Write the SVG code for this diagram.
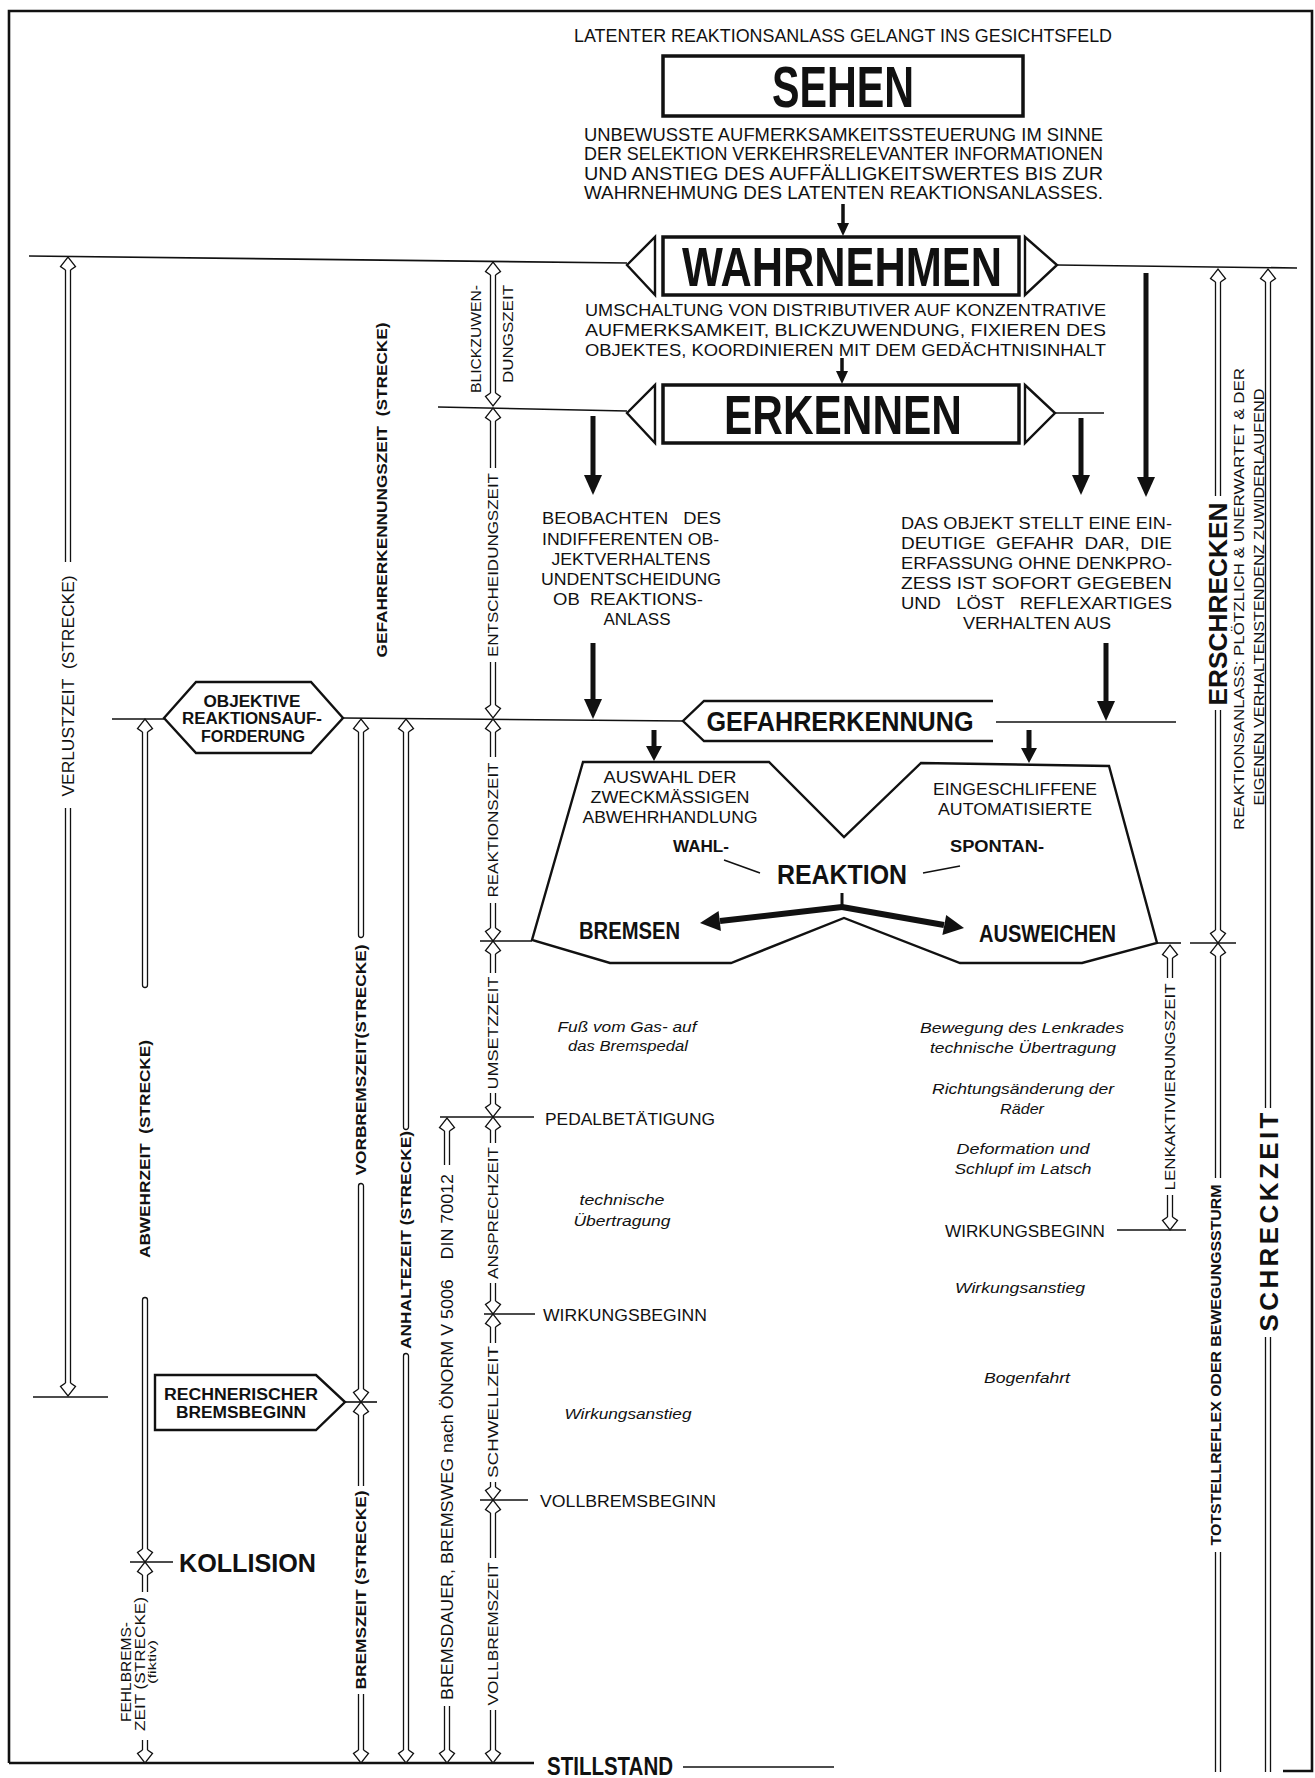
<svg xmlns="http://www.w3.org/2000/svg" width="1315" height="1778" viewBox="0 0 1315 1778">
<style>
.t{font-family:"Liberation Sans",Arial,sans-serif;fill:#111}
.b{font-weight:bold}
.i{font-style:italic}
.m{text-anchor:middle}
.e{text-anchor:end}
.ln{stroke:#111;stroke-width:1.6;fill:none}
.fr{stroke:#111;stroke-width:2.6;fill:none}
.dl{stroke:#111;stroke-width:1.3;fill:none}
.bx{stroke:#111;stroke-width:3.5;fill:#fff}
.sh{stroke:#111;stroke-width:2.4;fill:none;stroke-linejoin:miter}
.w{fill:#fff}
.sa{stroke:#111;stroke-width:5;fill:none}
.sm{stroke:#111;stroke-width:3.5;fill:none}
</style>
<defs>
<path id="au" d="M-2.5,13 L-7.5,9.5 L0,0 L7.5,9.5 L2.5,13" fill="#fff" stroke="#111" stroke-width="1.3"/>
<path id="ad" d="M-2.5,-13 L-7.5,-9.5 L0,0 L7.5,-9.5 L2.5,-13" fill="#fff" stroke="#111" stroke-width="1.3"/>
<polygon id="bh" points="0,0 -9,-20 9,-20" fill="#111"/>
<polygon id="bm" points="0,0 -8,-15 8,-15" fill="#111"/>
<polygon id="bs" points="0,0 -6,-13 6,-13" fill="#111"/>
</defs>
<rect width="1315" height="1778" fill="#fff"/>

<g id="frame">
<path class="fr" d="M9,1763 V11 H1312 V1771 H1283"/>
</g>

<g id="connectors">
<path class="ln" d="M29,256 L627,263"/>
<path class="ln" d="M1057,265 L1297,268"/>
<path class="ln" d="M438,407 L627,411"/>
<path class="ln" d="M1055,413 H1104"/>
<path class="ln" d="M112,719 H164 M343,718 L683,721"/>
<path class="ln" d="M996,722 H1176"/>
<path class="ln" d="M480,941 H532"/>
<path class="ln" d="M33,1397 H108"/>
<path class="ln" d="M440,1117 H534"/>
<path class="ln" d="M484,1314 H535"/>
<path class="ln" d="M480,1500 H528"/>
<path class="ln" d="M130,1562 H173"/>
<path class="ln" d="M345,1402 H377"/>
<path class="ln" d="M1157,943 H1181"/>
<path class="ln" d="M1190,943 H1236"/>
<path class="ln" d="M1117,1230 H1186"/>
<path class="fr" d="M9,1763 H534"/>
<path class="ln" d="M683,1767 H834"/>

<path class="sm" d="M843,204 V224"/><use href="#bs" x="843" y="236"/>
<path class="sm" d="M842,358 V372"/><use href="#bs" x="842" y="384"/>
<path class="sa" d="M593,416 V477"/><use href="#bh" x="593" y="495"/>
<path class="sa" d="M1081,418 V477"/><use href="#bh" x="1081" y="495"/>
<path class="sa" d="M1146,273 V479"/><use href="#bh" x="1146" y="497"/>
<path class="sa" d="M593,643 V701"/><use href="#bh" x="593" y="719"/>
<path class="sa" d="M1106,643 V703"/><use href="#bh" x="1106" y="721"/>
<path class="sa" d="M654,730 V748" stroke-width="4"/><use href="#bm" x="654" y="761"/>
<path class="sa" d="M1029,730 V750" stroke-width="4"/><use href="#bm" x="1029" y="763"/>

<path class="dl" d="M65.5,270 V562 M70.5,270 V562 M65.5,808 V1383 M70.5,808 V1383"/>
<use href="#au" x="68" y="257"/>
<use href="#ad" x="68" y="1396"/>

<path class="dl" d="M142.5,732 V985 A2.5,2.5 0 0 0 147.5,985 V732"/>
<path class="dl" d="M142.5,1549 V1300 A2.5,2.5 0 0 1 147.5,1300 V1549"/>
<path class="dl" d="M142.5,1575 V1592 M147.5,1575 V1592 M142.5,1740 V1750 M147.5,1740 V1750"/>
<use href="#au" x="145" y="719"/>
<use href="#ad" x="145" y="1562"/>
<use href="#au" x="145" y="1562"/>
<use href="#ad" x="145" y="1763"/>

<path class="dl" d="M358.5,732 V935 A2.5,2.5 0 0 0 363.5,935 V732"/>
<path class="dl" d="M358.5,1389 V1186 A2.5,2.5 0 0 1 363.5,1186 V1389"/>
<path class="dl" d="M358.5,1415 V1486 M363.5,1415 V1486 M358.5,1694 V1750 M363.5,1694 V1750"/>
<use href="#au" x="361" y="719"/>
<use href="#ad" x="361" y="1402"/>
<use href="#au" x="361" y="1402"/>
<use href="#ad" x="361" y="1763"/>

<path class="dl" d="M403.5,732 V1127 A2.5,2.5 0 0 0 408.5,1127 V732"/>
<path class="dl" d="M403.5,1750 V1356 A2.5,2.5 0 0 1 408.5,1356 V1750"/>
<use href="#au" x="406" y="719"/>
<use href="#ad" x="406" y="1763"/>

<path class="dl" d="M444.5,1131 V1165 M449.5,1131 V1165 M444.5,1706 V1750 M449.5,1706 V1750"/>
<use href="#au" x="447" y="1118"/>
<use href="#ad" x="447" y="1763"/>

<path class="dl" d="M490.5,275 V393 M495.5,275 V393"/>
<path class="dl" d="M490.5,421 V468 M495.5,421 V468 M490.5,662 V705 M495.5,662 V705"/>
<path class="dl" d="M490.5,732 V757 M495.5,732 V757 M490.5,903 V928 M495.5,903 V928"/>
<path class="dl" d="M490.5,954 V973 M495.5,954 V973 M490.5,1093 V1104 M495.5,1093 V1104"/>
<path class="dl" d="M490.5,1130 V1143 M495.5,1130 V1143 M490.5,1283 V1301 M495.5,1283 V1301"/>
<path class="dl" d="M490.5,1327 V1343 M495.5,1327 V1343 M490.5,1482 V1487 M495.5,1482 V1487"/>
<path class="dl" d="M490.5,1513 V1558 M495.5,1513 V1558 M490.5,1710 V1750 M495.5,1710 V1750"/>
<use href="#au" x="493" y="262"/>
<use href="#ad" x="493" y="406"/>
<use href="#au" x="493" y="408"/>
<use href="#ad" x="493" y="718"/>
<use href="#au" x="493" y="719"/>
<use href="#ad" x="493" y="941"/>
<use href="#au" x="493" y="941"/>
<use href="#ad" x="493" y="1117"/>
<use href="#au" x="493" y="1117"/>
<use href="#ad" x="493" y="1314"/>
<use href="#au" x="493" y="1314"/>
<use href="#ad" x="493" y="1500"/>
<use href="#au" x="493" y="1500"/>
<use href="#ad" x="493" y="1763"/>

<path class="dl" d="M1167.5,958 V978 M1172.5,958 V978 M1167.5,1195 V1217 M1172.5,1195 V1217"/>
<use href="#au" x="1170" y="945"/>
<use href="#ad" x="1170" y="1230"/>

<path class="dl" d="M1215.5,282 V496 M1220.5,282 V496 M1215.5,710 V930 M1220.5,710 V930"/>
<path class="dl" d="M1215.5,956 V1178 M1220.5,956 V1178 M1215.5,1552 V1772 M1220.5,1552 V1772"/>
<use href="#au" x="1218" y="269"/>
<use href="#ad" x="1218" y="943"/>
<use href="#au" x="1218" y="943"/>

<path class="dl" d="M1265.5,282 V1108 M1270.5,282 V1108 M1265.5,1337 V1772 M1270.5,1337 V1772"/>
<use href="#au" x="1268" y="269"/>

<path d="M842,893 V908" stroke="#111" stroke-width="3"/>
<path d="M842,907 L720,921" stroke="#111" stroke-width="6"/>
<polygon points="700,923 720.9,931 718.6,911" fill="#111"/>
<path d="M842,907 L944,925" stroke="#111" stroke-width="6"/>
<polygon points="964,928 942.4,935 946.2,915" fill="#111"/>
<path class="ln" d="M724,860 L760,873"/>
<path class="ln" d="M923,873 L960,866"/>
</g>

<g id="top-text">
<text class="t m" x="843" y="42" font-size="18" textLength="538" lengthAdjust="spacingAndGlyphs">LATENTER REAKTIONSANLASS GELANGT INS GESICHTSFELD</text>
</g>

<g id="sehen">
<rect class="bx" x="663" y="56" width="360" height="60"/>
<text class="t b m" x="843" y="107" font-size="58" textLength="142" lengthAdjust="spacingAndGlyphs">SEHEN</text>
</g>

<g id="text-sehen">
<text class="t" font-size="18" lengthAdjust="spacingAndGlyphs" textLength="519" x="584" y="141">UNBEWUSSTE AUFMERKSAMKEITSSTEUERUNG IM SINNE</text>
<text class="t" font-size="18" lengthAdjust="spacingAndGlyphs" textLength="519" x="584" y="160">DER SELEKTION VERKEHRSRELEVANTER INFORMATIONEN</text>
<text class="t" font-size="18" lengthAdjust="spacingAndGlyphs" textLength="519" x="584" y="180">UND ANSTIEG DES AUFFÄLLIGKEITSWERTES BIS ZUR</text>
<text class="t" font-size="18" lengthAdjust="spacingAndGlyphs" textLength="519" x="584" y="199">WAHRNEHMUNG DES LATENTEN REAKTIONSANLASSES.</text>
</g>

<g id="wahrnehmen">
<polygon class="sh w" points="627,265 655,237 655,295"/>
<polygon class="sh w" points="1025,237 1057,265 1025,295"/>
<rect class="bx" x="663" y="237" width="356" height="58"/>
<text class="t b m" x="842" y="286" font-size="56" textLength="320" lengthAdjust="spacingAndGlyphs">WAHRNEHMEN</text>
</g>

<g id="text-wahrnehmen">
<text class="t" font-size="17" lengthAdjust="spacingAndGlyphs" textLength="521" x="585" y="316">UMSCHALTUNG VON DISTRIBUTIVER AUF KONZENTRATIVE</text>
<text class="t" font-size="17" lengthAdjust="spacingAndGlyphs" textLength="521" x="585" y="336">AUFMERKSAMKEIT, BLICKZUWENDUNG, FIXIEREN DES</text>
<text class="t" font-size="17" lengthAdjust="spacingAndGlyphs" textLength="521" x="585" y="356">OBJEKTES, KOORDINIEREN MIT DEM GEDÄCHTNISINHALT</text>
</g>

<g id="erkennen">
<polygon class="sh w" points="627,413 655,385 655,443"/>
<polygon class="sh w" points="1025,385 1055,413 1025,443"/>
<rect class="bx" x="663" y="385" width="356" height="58"/>
<text class="t b m" x="843" y="434" font-size="56" textLength="238" lengthAdjust="spacingAndGlyphs">ERKENNEN</text>
</g>

<g id="beobachten">
<text class="t" font-size="16" lengthAdjust="spacingAndGlyphs" textLength="179" x="542" y="524">BEOBACHTEN&#160;&#160;&#160;DES</text>
<text class="t" font-size="16" lengthAdjust="spacingAndGlyphs" textLength="177" x="542" y="545">INDIFFERENTEN OB-</text>
<text class="t m" font-size="16" lengthAdjust="spacingAndGlyphs" textLength="159" x="631" y="565">JEKTVERHALTENS</text>
<text class="t m" font-size="16" lengthAdjust="spacingAndGlyphs" textLength="180" x="631" y="585">UNDENTSCHEIDUNG</text>
<text class="t m" font-size="16" lengthAdjust="spacingAndGlyphs" textLength="150" x="628" y="605">OB&#160;&#160;REAKTIONS-</text>
<text class="t m" font-size="16" lengthAdjust="spacingAndGlyphs" textLength="67" x="637" y="625">ANLASS</text>
</g>

<g id="objekt-gefahr">
<text class="t" font-size="16" lengthAdjust="spacingAndGlyphs" textLength="271" x="901" y="529">DAS OBJEKT STELLT EINE EIN-</text>
<text class="t" font-size="16" lengthAdjust="spacingAndGlyphs" textLength="271" x="901" y="549">DEUTIGE&#160;&#160;GEFAHR&#160;&#160;DAR,&#160;&#160;DIE</text>
<text class="t" font-size="16" lengthAdjust="spacingAndGlyphs" textLength="271" x="901" y="569">ERFASSUNG OHNE DENKPRO-</text>
<text class="t" font-size="16" lengthAdjust="spacingAndGlyphs" textLength="271" x="901" y="589">ZESS IST SOFORT GEGEBEN</text>
<text class="t" font-size="16" lengthAdjust="spacingAndGlyphs" textLength="271" x="901" y="609">UND&#160;&#160;&#160;LÖST&#160;&#160;&#160;REFLEXARTIGES</text>
<text class="t m" font-size="16" lengthAdjust="spacingAndGlyphs" textLength="148" x="1037" y="629">VERHALTEN AUS</text>
</g>

<g id="gefahrerkennung">
<path class="sh" d="M993,701 H704 L683,721 L704,741 H993"/>
<text class="t b m" x="840" y="731" font-size="28" textLength="267" lengthAdjust="spacingAndGlyphs">GEFAHRERKENNUNG</text>
</g>

<g id="objektive">
<polygon class="sh w" points="164,718 196,682 311,682 343,718 311,753 196,753"/>
<text class="t b m" x="252" y="707" font-size="16" textLength="97" lengthAdjust="spacingAndGlyphs">OBJEKTIVE</text>
<text class="t b m" x="252" y="724" font-size="16" textLength="140" lengthAdjust="spacingAndGlyphs">REAKTIONSAUF-</text>
<text class="t b m" x="253" y="742" font-size="16" textLength="104" lengthAdjust="spacingAndGlyphs">FORDERUNG</text>
</g>

<g id="reaktion">
<polygon class="sh" points="583,762 769,762 844,837 921,763 1109,766 1157,943 1082,963 960,963 844,918 731,963 610,963 532,940"/>
<text class="t m" x="670" y="783" font-size="16" textLength="133" lengthAdjust="spacingAndGlyphs">AUSWAHL DER</text>
<text class="t m" x="670" y="803" font-size="16" textLength="159" lengthAdjust="spacingAndGlyphs">ZWECKMÄSSIGEN</text>
<text class="t m" x="670" y="823" font-size="16" textLength="175" lengthAdjust="spacingAndGlyphs">ABWEHRHANDLUNG</text>
<text class="t m" x="1015" y="795" font-size="16" textLength="164" lengthAdjust="spacingAndGlyphs">EINGESCHLIFFENE</text>
<text class="t m" x="1015" y="815" font-size="16" textLength="154" lengthAdjust="spacingAndGlyphs">AUTOMATISIERTE</text>
<text class="t b m" x="701" y="852" font-size="16" textLength="56" lengthAdjust="spacingAndGlyphs">WAHL-</text>
<text class="t b m" x="997" y="852" font-size="16" textLength="94" lengthAdjust="spacingAndGlyphs">SPONTAN-</text>
<text class="t b m" x="842" y="884" font-size="27" textLength="130" lengthAdjust="spacingAndGlyphs">REAKTION</text>
<text class="t b" x="579" y="939" font-size="24" textLength="101" lengthAdjust="spacingAndGlyphs">BREMSEN</text>
<text class="t b" x="979" y="942" font-size="24" textLength="137" lengthAdjust="spacingAndGlyphs">AUSWEICHEN</text>
</g>

<g id="rechnerischer">
<polygon class="sh w" points="155,1375 316,1375 345,1402 316,1430 155,1430"/>
<text class="t b m" x="241" y="1400" font-size="16" textLength="154" lengthAdjust="spacingAndGlyphs">RECHNERISCHER</text>
<text class="t b m" x="241" y="1418" font-size="16" textLength="130" lengthAdjust="spacingAndGlyphs">BREMSBEGINN</text>
</g>

<g id="kollision">
<text class="t b" x="179" y="1572" font-size="25" textLength="137" lengthAdjust="spacingAndGlyphs">KOLLISION</text>
</g>

<g id="stillstand">
<text class="t b" x="547" y="1775" font-size="26" textLength="126" lengthAdjust="spacingAndGlyphs">STILLSTAND</text>
</g>

<g id="event-labels">
<text class="t" x="545" y="1125" font-size="16" textLength="170" lengthAdjust="spacingAndGlyphs">PEDALBETÄTIGUNG</text>
<text class="t" x="543" y="1321" font-size="16" textLength="164" lengthAdjust="spacingAndGlyphs">WIRKUNGSBEGINN</text>
<text class="t" x="540" y="1507" font-size="16" textLength="176" lengthAdjust="spacingAndGlyphs">VOLLBREMSBEGINN</text>
<text class="t" x="945" y="1237" font-size="16" textLength="160" lengthAdjust="spacingAndGlyphs">WIRKUNGSBEGINN</text>
</g>

<g id="italic-notes">
<text class="t i m" x="627" y="1032" font-size="15.5" textLength="139" lengthAdjust="spacingAndGlyphs">Fuß vom Gas- auf</text>
<text class="t i m" x="628" y="1051" font-size="15.5" textLength="120" lengthAdjust="spacingAndGlyphs">das Bremspedal</text>
<text class="t i m" x="622" y="1205" font-size="15.5" textLength="85" lengthAdjust="spacingAndGlyphs">technische</text>
<text class="t i m" x="622" y="1226" font-size="15.5" textLength="97" lengthAdjust="spacingAndGlyphs">Übertragung</text>
<text class="t i m" x="628" y="1419" font-size="15.5" textLength="127" lengthAdjust="spacingAndGlyphs">Wirkungsanstieg</text>
<text class="t i m" x="1022" y="1033" font-size="15.5" textLength="204" lengthAdjust="spacingAndGlyphs">Bewegung des Lenkrades</text>
<text class="t i m" x="1023" y="1053" font-size="15.5" textLength="186" lengthAdjust="spacingAndGlyphs">technische Übertragung</text>
<text class="t i m" x="1023" y="1094" font-size="15.5" textLength="182" lengthAdjust="spacingAndGlyphs">Richtungsänderung der</text>
<text class="t i m" x="1022" y="1114" font-size="15.5" textLength="44" lengthAdjust="spacingAndGlyphs">Räder</text>
<text class="t i m" x="1023" y="1154" font-size="15.5" textLength="133" lengthAdjust="spacingAndGlyphs">Deformation und</text>
<text class="t i m" x="1023" y="1174" font-size="15.5" textLength="137" lengthAdjust="spacingAndGlyphs">Schlupf im Latsch</text>
<text class="t i m" x="1020" y="1293" font-size="15.5" textLength="130" lengthAdjust="spacingAndGlyphs">Wirkungsanstieg</text>
<text class="t i m" x="1027" y="1383" font-size="15.5" textLength="86" lengthAdjust="spacingAndGlyphs">Bogenfahrt</text>
</g>

<g id="interval-labels">
<text class="t m" transform="translate(68,686) rotate(-90)" dy="0.36em" font-size="16" textLength="221" lengthAdjust="spacingAndGlyphs">VERLUSTZEIT&#160;&#160;(STRECKE)</text>
<text class="t b m" transform="translate(382,490) rotate(-90)" dy="0.36em" font-size="15" textLength="335" lengthAdjust="spacingAndGlyphs">GEFAHRERKENNUNGSZEIT&#160;&#160;(STRECKE)</text>
<text class="t e" transform="translate(476,285) rotate(-90)" dy="0.36em" font-size="14" textLength="108" lengthAdjust="spacingAndGlyphs">BLICKZUWEN-</text>
<text class="t e" transform="translate(508,285) rotate(-90)" dy="0.36em" font-size="14" textLength="98" lengthAdjust="spacingAndGlyphs">DUNGSZEIT</text>
<text class="t m" transform="translate(493,565) rotate(-90)" dy="0.36em" font-size="15" textLength="184" lengthAdjust="spacingAndGlyphs">ENTSCHEIDUNGSZEIT</text>
<text class="t m" transform="translate(493,830) rotate(-90)" dy="0.36em" font-size="15" textLength="135" lengthAdjust="spacingAndGlyphs">REAKTIONSZEIT</text>
<text class="t m" transform="translate(493,1033) rotate(-90)" dy="0.36em" font-size="15" textLength="113" lengthAdjust="spacingAndGlyphs">UMSETZZEIT</text>
<text class="t m" transform="translate(493,1213) rotate(-90)" dy="0.36em" font-size="15" textLength="132" lengthAdjust="spacingAndGlyphs">ANSPRECHZEIT</text>
<text class="t m" transform="translate(493,1412) rotate(-90)" dy="0.36em" font-size="15" textLength="132" lengthAdjust="spacingAndGlyphs">SCHWELLZEIT</text>
<text class="t m" transform="translate(493,1634) rotate(-90)" dy="0.36em" font-size="15" textLength="143" lengthAdjust="spacingAndGlyphs">VOLLBREMSZEIT</text>
<text class="t b m" transform="translate(145,1149) rotate(-90)" dy="0.36em" font-size="15" textLength="218" lengthAdjust="spacingAndGlyphs">ABWEHRZEIT&#160;&#160;(STRECKE)</text>
<text class="t m" transform="translate(126,1672) rotate(-90)" dy="0.36em" font-size="14" textLength="100" lengthAdjust="spacingAndGlyphs">FEHLBREMS-</text>
<text class="t m" transform="translate(140,1664) rotate(-90)" dy="0.36em" font-size="14" textLength="134" lengthAdjust="spacingAndGlyphs">ZEIT (STRECKE)</text>
<text class="t m" transform="translate(152,1662) rotate(-90)" dy="0.36em" font-size="10" textLength="44" lengthAdjust="spacingAndGlyphs">(fiktiv)</text>
<text class="t b m" transform="translate(361,1060) rotate(-90)" dy="0.36em" font-size="15" textLength="231" lengthAdjust="spacingAndGlyphs">VORBREMSZEIT(STRECKE)</text>
<text class="t b m" transform="translate(361,1590) rotate(-90)" dy="0.36em" font-size="15" textLength="199" lengthAdjust="spacingAndGlyphs">BREMSZEIT (STRECKE)</text>
<text class="t b m" transform="translate(406,1240) rotate(-90)" dy="0.36em" font-size="15" textLength="218" lengthAdjust="spacingAndGlyphs">ANHALTEZEIT (STRECKE)</text>
<text class="t" transform="translate(447,1700) rotate(-90)" dy="0.36em" font-size="16" textLength="526" lengthAdjust="spacingAndGlyphs">BREMSDAUER, BREMSWEG nach ÖNORM V 5006&#160;&#160;&#160;&#160;DIN 70012</text>
<text class="t m" transform="translate(1170,1087) rotate(-90)" dy="0.36em" font-size="15" textLength="207" lengthAdjust="spacingAndGlyphs">LENKAKTIVIERUNGSZEIT</text>
<text class="t b m" transform="translate(1218,604) rotate(-90)" dy="0.36em" font-size="25" textLength="203" lengthAdjust="spacingAndGlyphs">ERSCHRECKEN</text>
<text class="t m" transform="translate(1239,599) rotate(-90)" dy="0.36em" font-size="15" textLength="462" lengthAdjust="spacingAndGlyphs">REAKTIONSANLASS: PLÖTZLICH &amp; UNERWARTET &amp; DER</text>
<text class="t m" transform="translate(1259,597) rotate(-90)" dy="0.36em" font-size="15" textLength="417" lengthAdjust="spacingAndGlyphs">EIGENEN VERHALTENSTENDENZ ZUWIDERLAUFEND</text>
<text class="t b m" transform="translate(1216,1365) rotate(-90)" dy="0.36em" font-size="15" textLength="361" lengthAdjust="spacingAndGlyphs">TOTSTELLREFLEX ODER BEWEGUNGSSTURM</text>
<text class="t b m" transform="translate(1269,1222) rotate(-90)" dy="0.36em" font-size="26" textLength="219" lengthAdjust="spacing">SCHRECKZEIT</text>
</g>
</svg>
